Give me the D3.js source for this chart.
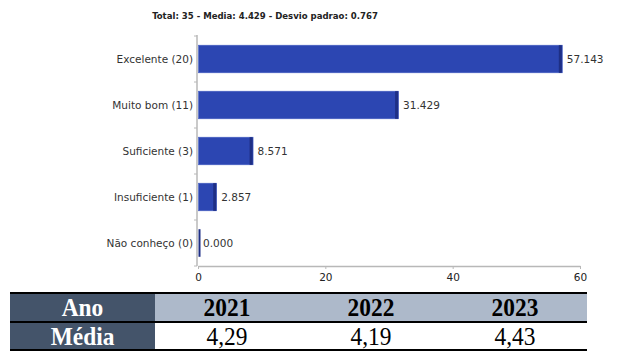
<!DOCTYPE html>
<html>
<head>
<meta charset="utf-8">
<script src="https://cdn.jsdelivr.net/npm/d3@7"></script>
<style>
  html, body { margin: 0; padding: 0; background: #fff; }
  svg { display: block; }
</style>
</head>
<body>
<svg id="chart" width="618" height="351"></svg>
<script>
const titleText = "Total: 35 - Media: 4.429 - Desvio padrao: 0.767";
const categories = ["Excelente (20)", "Muito bom (11)", "Suficiente (3)", "Insuficiente (1)", "Não conheço (0)"];
const percentages = [57.143, 31.429, 8.571, 2.857, 0.000];
const xTicks = [0, 20, 40, 60];

const tableRowLabels = ["Ano", "Média"];
const years = ["2021", "2022", "2023"];
const means = ["4,29", "4,19", "4,43"];

const svg = d3.select("#chart");

// Title
svg.append("text")
  .attr("x", 265).attr("y", 19)
  .attr("text-anchor", "middle")
  .attr("font-family", "'DejaVu Sans Condensed', 'DejaVu Sans'")
  .attr("font-weight", "bold")
  .attr("font-size", 9.5)
  .attr("fill", "#222")
  .text(titleText);

const x = d3.scaleLinear().domain([0, 60]).range([198, 580]);
const y = d3.scaleBand().domain(categories).range([36, 266]).paddingInner(0.4).paddingOuter(0.2);

const axisColor = "#b8b8b8";

// X axis
const xAxisG = svg.append("g").attr("transform", "translate(0,266)")
  .call(d3.axisBottom(x).tickValues(xTicks).tickSize(3).tickSizeOuter(0).tickPadding(5).tickFormat(d3.format("d")));
xAxisG.select(".domain").attr("stroke", axisColor).attr("stroke-width", 1.5);
xAxisG.selectAll(".tick line").attr("stroke", axisColor);
xAxisG.selectAll("text").attr("font-family", "DejaVu Sans").attr("font-size", 10.5).attr("fill", "#222");

// Y axis line + boundary ticks
svg.append("line").attr("x1", x(0) - 1).attr("x2", x(0) - 1).attr("y1", 35).attr("y2", 266)
  .attr("stroke", axisColor).attr("stroke-width", 1.5);
const boundaries = categories.map((c, i) => i === 0 ? 36 : y(c) - y.step() * y.paddingInner() / 2);
boundaries.push(266);
svg.selectAll(".ytick").data(boundaries).enter().append("line")
  .attr("x1", x(0) - 4).attr("x2", x(0) - 1)
  .attr("y1", d => d).attr("y2", d => d)
  .attr("stroke", axisColor);

// Category labels
svg.selectAll(".cat").data(categories).enter().append("text")
  .attr("x", 193)
  .attr("y", d => y(d) + y.bandwidth() / 2)
  .attr("dy", "0.35em")
  .attr("text-anchor", "end")
  .attr("font-family", "DejaVu Sans")
  .attr("font-size", 10.5)
  .attr("fill", "#333")
  .text(d => d);

// Bars
const bars = svg.selectAll(".bar").data(percentages).enter().append("g");
bars.append("rect")
  .attr("x", x(0) + 0.5)
  .attr("y", (d, i) => y(categories[i]))
  .attr("width", d => Math.max(0, x(d) - x(0)))
  .attr("height", y.bandwidth())
  .attr("fill", "#2c46b2")
  .attr("stroke", "#4a62c4")
  .attr("stroke-width", 0.6);
bars.append("rect")
  .attr("x", d => Math.max(x(0) + 0.5, x(d) - 3))
  .attr("y", (d, i) => y(categories[i]))
  .attr("width", d => Math.max(2, Math.min(3, x(d) - x(0))))
  .attr("height", y.bandwidth())
  .attr("fill", "#1e2f85");

// Value labels
svg.selectAll(".val").data(percentages).enter().append("text")
  .attr("x", d => x(d) + 5)
  .attr("y", (d, i) => y(categories[i]) + y.bandwidth() / 2)
  .attr("dy", "0.35em")
  .attr("font-family", "DejaVu Sans")
  .attr("font-size", 10.5)
  .attr("fill", "#333")
  .text(d => d.toFixed(3));

// Table
const tLeft = 10, tRight = 587, labelW = 145;
const colW = (tRight - tLeft - labelW) / years.length;
const rowTop = [293, 322];
const rowH = [28, 28];

svg.append("rect").attr("x", tLeft).attr("y", rowTop[0]).attr("width", labelW).attr("height", rowH[0]).attr("fill", "#44546a");
svg.append("rect").attr("x", tLeft + labelW).attr("y", rowTop[0]).attr("width", tRight - tLeft - labelW).attr("height", rowH[0]).attr("fill", "#adb9ca");
svg.append("rect").attr("x", tLeft).attr("y", rowTop[1]).attr("width", labelW).attr("height", rowH[1]).attr("fill", "#44546a");

[rowTop[0], rowTop[1], rowTop[1] + rowH[1]].forEach(yy => {
  svg.append("line").attr("x1", tLeft).attr("x2", tRight).attr("y1", yy).attr("y2", yy)
    .attr("stroke", "#000").attr("stroke-width", 1.8);
});

function cellText(cx, baseline, txt, bold, color) {
  svg.append("text")
    .attr("transform", `translate(${cx},${baseline}) scale(0.9,1)`)
    .attr("text-anchor", "middle")
    .attr("font-family", "Liberation Serif")
    .attr("font-weight", bold ? "bold" : "normal")
    .attr("font-size", 26)
    .attr("fill", color)
    .text(txt);
}
cellText(tLeft + labelW / 2, 316, tableRowLabels[0], true, "#fff");
cellText(tLeft + labelW / 2, 345, tableRowLabels[1], true, "#fff");
years.forEach((yv, i) => cellText(tLeft + labelW + colW * (i + 0.5), 316, yv, true, "#000"));
means.forEach((m, i) => cellText(tLeft + labelW + colW * (i + 0.5), 345, m, false, "#000"));
</script>
</body>
</html>
